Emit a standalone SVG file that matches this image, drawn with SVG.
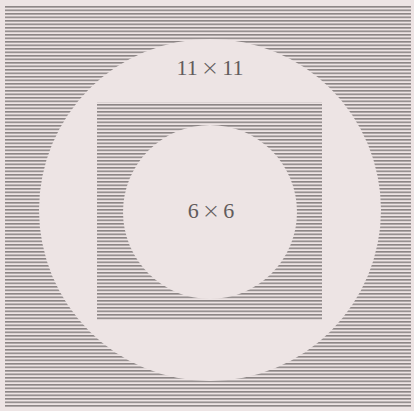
<svg xmlns="http://www.w3.org/2000/svg" width="414" height="411" viewBox="0 0 414 411">
  <defs>
    <pattern id="hatch" patternUnits="userSpaceOnUse" x="0" y="6" width="8" height="3.5">
      <rect x="0" y="0" width="8" height="1.6" fill="#8c8585"/>
    </pattern>
    <style>
      .bg { fill: #ede4e4; }
      .hatch { fill: url(#hatch); }
      .lbl { font-family: "Liberation Serif", "DejaVu Serif", serif; font-size: 22px; fill: #625c5c; text-anchor: middle; }
      .x { font-family: "DejaVu Sans", sans-serif; font-size: 22px; font-weight: 200; }
    </style>
  </defs>
  <rect class="bg" x="0" y="0" width="414" height="411"/>
  <g id="outer-square">
    <rect class="hatch" x="5" y="6" width="406" height="402"/>
  </g>
  <g id="outer-circle">
    <circle class="bg" cx="210" cy="210" r="171"/>
  </g>
  <g id="inner-square">
    <rect class="hatch" x="97" y="102" width="225" height="218"/>
  </g>
  <g id="inner-circle">
    <circle class="bg" cx="210" cy="212" r="87"/>
  </g>
  <g id="labels">
    <text class="lbl" x="210" y="75">11<tspan class="x" dx="3">×</tspan><tspan dx="3">11</tspan></text>
    <text class="lbl" x="211" y="218">6<tspan class="x" dx="3">×</tspan><tspan dx="3">6</tspan></text>
  </g>
</svg>
